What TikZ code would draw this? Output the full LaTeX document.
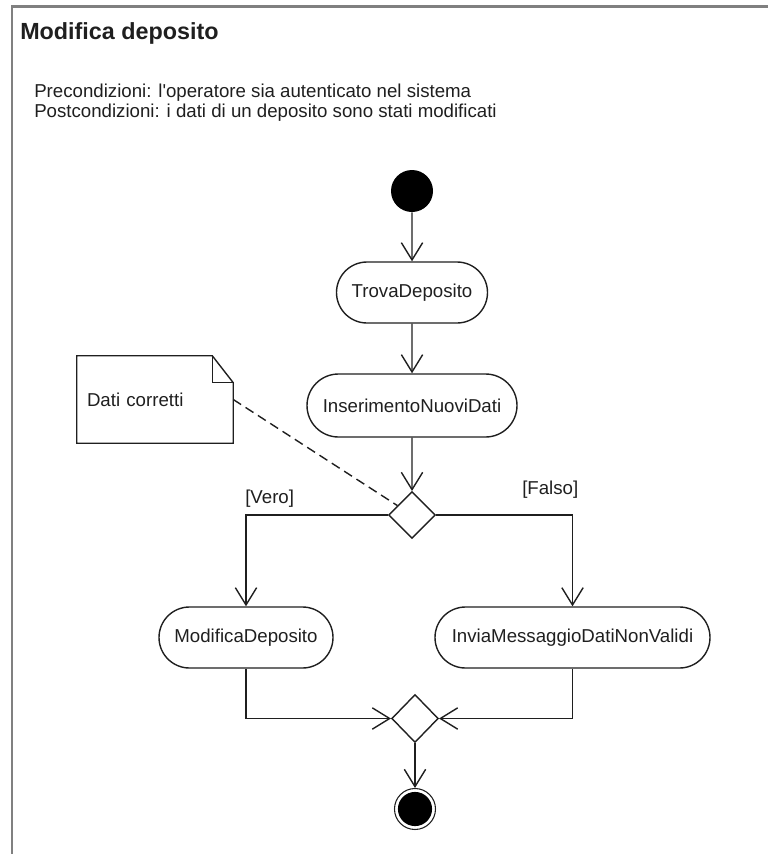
\documentclass[tikz,border=0pt]{standalone}
\usepackage{fontspec}
\setmainfont{Liberation Sans}
\usetikzlibrary{shapes.geometric,shapes.misc,arrows.meta,calc}
\definecolor{ink}{gray}{0.12}
\definecolor{framegray}{gray}{0.5}
\begin{document}
\begin{tikzpicture}[x=0.75pt,y=-0.75pt,
  every node/.style={text=ink, font=\fontsize{14pt}{17pt}\selectfont},
  flow/.style={draw=ink, line width=1.05pt, -{Straight Barb[length=13pt,width=16pt]}},
  action/.style={rounded rectangle, draw=ink, line width=1.05pt,
                 minimum height=45.75pt, inner sep=0pt},
  choice/.style={diamond, draw=ink, line width=1.05pt, minimum width=35pt,
                 minimum height=35pt, inner sep=0pt},
  plain/.style={inner sep=0pt, anchor=west}]

\useasboundingbox (0,0) rectangle (768,854);

% activity frame
\begin{scope}
  \clip (0,0) rectangle (768,854);
  \draw[framegray, line width=2.2pt] (12,6.5) rectangle (800,900);
\end{scope}

% heading and conditions
\node[plain, font=\fontsize{17.5pt}{21pt}\selectfont\bfseries] (title) at (20,33) {Modifica deposito};
\node[plain] (pre) at (34,93) {Precondizioni: l\textquotesingle operatore sia autenticato nel sistema};
\node[plain] (post) at (34,113) {Postcondizioni: i dati di un deposito sono stati modificati};

% nodes
\node[circle, fill=black, minimum size=31.5pt, inner sep=0pt] (start) at (412,191) {};
\node[action, minimum width=113.25pt] (trova) at (412,292.5) {TrovaDeposito};
\node[action, minimum width=157.5pt, minimum height=47.25pt] (ins) at (412,405.5) {InserimentoNuoviDati};
\node[choice] (dec) at (412,515) {};
\node[action, minimum width=130.5pt] (mod) at (246,637.5) {ModificaDeposito};
\node[action, minimum width=206.25pt] (inv) at (572.5,637.5) {InviaMessaggioDatiNonValidi};
\node[choice, minimum height=36pt] (merge) at (415,718.5) {};
\node[circle, draw=ink, line width=0.8pt, minimum size=30.75pt, inner sep=0pt] (end) at (415,809) {};
\fill[black] (end.center) circle (12.8pt);

% note with folded corner
\node[minimum width=117pt, minimum height=65.25pt, text width=102pt,
      inner xsep=7.5pt, align=left] (note) at (155,399.5) {Dati corretti};
\draw[ink, line width=1.05pt, line join=miter]
  (note.north west) -- ($(note.north east)+(-21,0)$) -- ($(note.north east)+(0,27)$)
  -- (note.south east) -- (note.south west) -- cycle;
\draw[ink, line width=1.05pt, line join=miter]
  ($(note.north east)+(-21,0)$) -- ($(note.north east)+(-21,27)$) -- ($(note.north east)+(0,27)$);
\draw[ink, line width=1.05pt, dash pattern=on 7pt off 4pt] (note.east) -- (dec);

% guard labels
\node[plain] (vero) at (245,499) {[Vero]};
\node[plain] (falso) at (522,490) {[Falso]};

% control flows
\draw[flow] (start) -- (trova);
\draw[flow] (trova) -- (ins);
\draw[flow] (ins) -- (dec);
\draw[flow] (dec.west) -| (mod.north);
\draw[flow] (dec.east) -| (inv.north);
\draw[flow] (mod.south) |- (merge.west);
\draw[flow] (inv.south) |- (merge.east);
\draw[flow] (merge) -- (end);
\end{tikzpicture}
\end{document}
